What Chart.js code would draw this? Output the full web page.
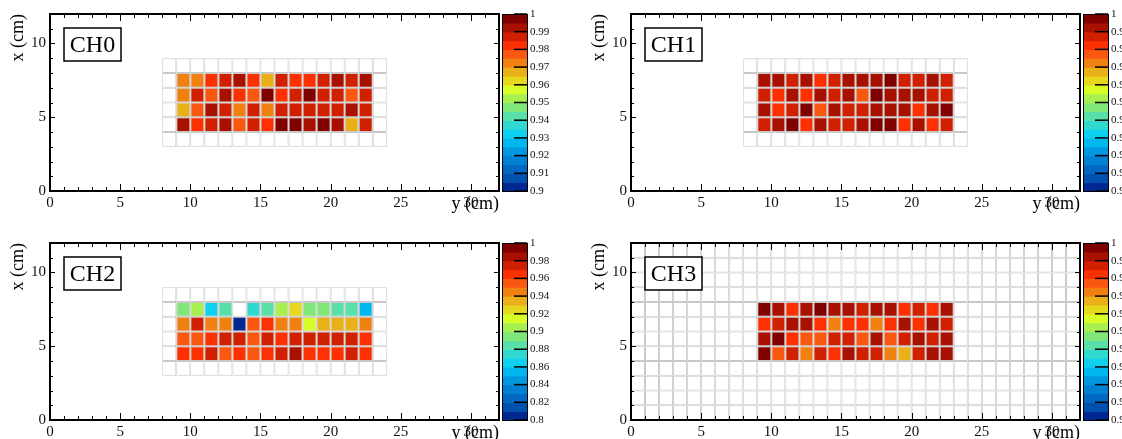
<!DOCTYPE html>
<html lang="en">
<head>
<meta charset="UTF-8">
<title>CH0 - CH3 maps</title>
<script src="https://cdn.jsdelivr.net/npm/chart.js"></script>
<style>
html, body {
margin: 0;
padding: 0;
width: 1122px;
height: 439px;
overflow: hidden;
background: #fff;
}
.panel {
position: absolute;
width: 561px;
height: 219px;
}
</style>
</head>
<body>

<div class="panel" style="left:0;top:0"><canvas id="ch0" width="561" height="219"></canvas></div>
<div class="panel" style="left:581px;top:0"><canvas id="ch1" width="561" height="219"></canvas></div>
<div class="panel" style="left:0;top:229px"><canvas id="ch2" width="561" height="219"></canvas></div>
<div class="panel" style="left:581px;top:229px"><canvas id="ch3" width="561" height="219"></canvas></div>

<script>
// bin columns (lower edge in y, cm) and rows (lower edge in x, cm), top row first
const colLow = [9, 10, 11, 12, 13, 14, 15, 16, 17, 18, 19, 20, 21, 22];
const rowLow = [7, 6, 5, 4];

// outlined (empty) bin area: [from, to] in y and x
const gridY = [8, 24];
const gridX = [3, 9];
const gridYFull = [0, 32];
const gridXFull = [0, 12];

const ch0 = [
[0.973, 0.973, 0.983, 0.988, 0.993, 0.983, 0.968, 0.988, 0.983, 0.983, 0.988, 0.993, 0.988, 0.993],
[0.973, 0.988, 0.978, 0.993, 0.983, 0.978, 0.998, 0.983, 0.988, 0.998, 0.988, 0.988, 0.978, 0.988],
[0.968, 0.978, 0.993, 0.988, 0.973, 0.988, 0.973, 0.988, 0.988, 0.988, 0.988, 0.988, 0.993, 0.988],
[0.993, 0.983, 0.988, 0.993, 0.978, 0.988, 0.983, 0.998, 0.998, 0.993, 0.998, 0.993, 0.968, 0.988]
];
const ch1 = [
[0.993, 0.993, 0.988, 0.993, 0.983, 0.988, 0.993, 0.993, 0.993, 0.998, 0.988, 0.988, 0.993, 0.988],
[0.988, 0.983, 0.993, 0.983, 0.993, 0.988, 0.993, 0.978, 0.998, 0.993, 0.993, 0.993, 0.988, 0.988],
[0.993, 0.983, 0.988, 0.998, 0.978, 0.993, 0.988, 0.988, 0.993, 0.993, 0.993, 0.983, 0.993, 0.998],
[0.988, 0.993, 0.998, 0.983, 0.993, 0.988, 0.988, 0.993, 0.998, 0.998, 0.983, 0.993, 0.983, 0.988]
];
const ch2 = [
[0.895, 0.905, 0.865, 0.885, null, 0.875, 0.885, 0.905, 0.925, 0.895, 0.895, 0.885, 0.885, 0.855],
[0.945, 0.975, 0.945, 0.945, 0.805, 0.955, 0.965, 0.945, 0.945, 0.915, 0.935, 0.935, 0.935, 0.945],
[0.955, 0.955, 0.965, 0.975, 0.975, 0.955, 0.975, 0.965, 0.975, 0.975, 0.975, 0.975, 0.975, 0.965],
[0.965, 0.965, 0.975, 0.955, 0.965, 0.955, 0.965, 0.975, 0.985, 0.965, 0.965, 0.965, 0.975, 0.965]
];
const ch3 = [
[0.998, 0.993, 0.983, 0.993, 0.998, 0.993, 0.993, 0.988, 0.993, 0.993, 0.983, 0.988, 0.983, 0.993],
[0.983, 0.988, 0.993, 0.993, 0.983, 0.973, 0.983, 0.983, 0.973, 0.983, 0.993, 0.983, 0.993, 0.988],
[0.993, 0.998, 0.983, 0.978, 0.978, 0.988, 0.988, 0.978, 0.993, 0.978, 0.988, 0.993, 0.988, 0.993],
[0.998, 0.978, 0.988, 0.973, 0.988, 0.983, 0.993, 0.988, 0.988, 0.973, 0.968, 0.988, 0.993, 0.993]
];

// z ranges and colour bar label steps
const zRangeFine = [0.9, 1];
const zRangeWide = [0.8, 1];
const zStepFine = 0.01;
const zStepWide = 0.02;

// 20 palette levels, bottom (low) to top (high)
const palette = [
'#002890', '#0050b0', '#0068c0', '#0080d0', '#0098e0', '#00b8f0', '#10d0f0', '#30d8d0',
'#58e0a8', '#80e878', '#a8f050', '#d8fe28', '#e6d81e', '#eab018', '#f08010', '#fa5810',
'#fc3000', '#d02000', '#a81000', '#800000'
];

const xTickStep = 5;
const yTickStep = 5;

const serif = '"Liberation Serif", "Times New Roman", serif';
Chart.defaults.font.family = serif;

function colorFor(v, zr) {
let i = Math.floor((v - zr[0]) / (zr[1] - zr[0]) * palette.length + 1e-9);
if (i < 0) i = 0;
if (i > palette.length - 1) i = palette.length - 1;
return palette[i];
}

function cellData(rows) {
const out = [];
rows.forEach((row, i) => {
row.forEach((v, j) => {
if (v === null) return;
out.push({ x: colLow[j] + 0.5, y: [rowLow[i], rowLow[i] + 1], v: v });
});
});
return out;
}

function gridData(spanY, spanX) {
const out = [];
for (let a = spanY[0]; a < spanY[1]; a++) {
for (let b = spanX[0]; b < spanX[1]; b++) {
out.push({ x: a + 0.5, y: [b, b + 1] });
}
}
return out;
}

// fixed axis sizes, no extra label overhang padding
function fixSize(prop, size) {
return s => {
s[prop] = size;
s.paddingTop = 0;
s.paddingBottom = 0;
s.paddingLeft = 0;
s.paddingRight = 0;
};
}

const rootFrame = {
id: 'rootFrame',
afterDatasetsDraw(chart, args, opts) {
const { ctx, chartArea: a, scales } = chart;
const x = scales.x, y = scales.y, z = scales.z;
ctx.save();

// colour bar
const bx = a.right + 3, bw = 25;
const n = palette.length;
for (let i = 0; i < n; i++) {
const lo = z.min + (z.max - z.min) * i / n;
const hi = z.min + (z.max - z.min) * (i + 1) / n;
const p1 = z.getPixelForValue(lo), p2 = z.getPixelForValue(hi);
ctx.fillStyle = palette[i];
ctx.fillRect(bx, p2, bw, p1 - p2 + 0.6);
}
ctx.strokeStyle = '#000';
ctx.lineWidth = 1;
ctx.strokeRect(bx + 0.5, a.top + 0.5, bw, a.bottom - a.top);
ctx.lineWidth = 1.5;
z.ticks.forEach(t => {
const py = z.getPixelForValue(t.value);
ctx.beginPath();
ctx.moveTo(bx + bw - 13, py);
ctx.lineTo(bx + bw, py);
ctx.stroke();
});

// inward ticks on all four sides
ctx.lineWidth = 1;
ctx.beginPath();
for (let v = x.min; v <= x.max; v++) {
const px = Math.round(x.getPixelForValue(v)) + 0.5;
const len = v % xTickStep ? 4 : 7;
ctx.moveTo(px, a.bottom); ctx.lineTo(px, a.bottom - len);
ctx.moveTo(px, a.top); ctx.lineTo(px, a.top + len);
}
for (let v = y.min; v <= y.max; v++) {
const py = Math.round(y.getPixelForValue(v)) + 0.5;
const len = v % yTickStep ? 3 : 5;
ctx.moveTo(a.left, py); ctx.lineTo(a.left + len, py);
ctx.moveTo(a.right, py); ctx.lineTo(a.right - len, py);
}
ctx.stroke();

// frame
ctx.lineWidth = 2;
ctx.strokeRect(a.left, a.top, a.right - a.left, a.bottom - a.top);

// channel label box
const bxL = a.left + 14, byT = a.top + 14, w = 57, h = 33;
ctx.fillStyle = '#fff';
ctx.fillRect(bxL, byT, w, h);
ctx.lineWidth = 1.5;
ctx.strokeRect(bxL, byT, w, h);
ctx.fillStyle = '#000';
ctx.font = '24px ' + serif;
ctx.textAlign = 'center';
ctx.textBaseline = 'middle';
ctx.fillText(opts.label, bxL + w / 2, byT + h / 2 + 1);
ctx.restore();
}
};

function makePanel(id, label, rows, zr, zStep, spanY, spanX) {
const cells = cellData(rows);
new Chart(document.getElementById(id), {
type: 'bar',
data: {
datasets: [{
data: cells,
backgroundColor: cells.map(c => colorFor(c.v, zr)),
borderColor: '#c8c8c8',
borderWidth: 1,
borderSkipped: false,
inflateAmount: 0,
grouped: false,
categoryPercentage: 1,
barPercentage: 1
}, {
data: gridData(spanY, spanX),
backgroundColor: '#ffffff',
borderColor: '#c8c8c8',
borderWidth: 1,
borderSkipped: false,
inflateAmount: 0,
grouped: false,
categoryPercentage: 1,
barPercentage: 1
}]
},
options: {
responsive: false,
animation: false,
events: [],
layout: { padding: { top: 14, left: 0, right: 0, bottom: 0 } },
plugins: {
legend: { display: false },
tooltip: { enabled: false },
rootFrame: { label: label }
},
scales: {
x: {
type: 'linear',
position: 'bottom',
min: 0,
max: 32,
offset: false,
grid: { display: false, drawTicks: false, offset: false },
border: { display: false },
ticks: {
stepSize: xTickStep,
includeBounds: false,
autoSkip: false,
maxRotation: 0,
padding: 3,
color: '#111',
font: { size: 15 }
},
title: {
display: true,
text: 'y (cm)',
align: 'end',
color: '#000',
padding: { top: 0, bottom: 4 },
font: { size: 18 }
},
afterFit: fixSize('height', 28)
},
y: {
type: 'linear',
position: 'left',
min: 0,
max: 12,
grid: { display: false, drawTicks: false },
border: { display: false },
ticks: {
stepSize: yTickStep,
includeBounds: false,
autoSkip: false,
padding: 4,
color: '#111',
font: { size: 15 }
},
title: {
display: true,
text: 'x (cm)',
align: 'end',
color: '#000',
padding: { top: 7, bottom: 0 },
font: { size: 18 }
},
afterFit: fixSize('width', 50)
},
z: {
type: 'linear',
position: 'right',
min: zr[0],
max: zr[1],
grid: { display: false, drawTicks: false },
border: { display: false },
ticks: {
stepSize: zStep,
autoSkip: false,
padding: 31,
color: '#111',
font: { size: 11 },
callback: v => String(+v.toFixed(2))
},
afterFit: fixSize('width', 62)
}
}
},
plugins: [rootFrame]
});
}

makePanel('ch0', 'CH0', ch0, zRangeFine, zStepFine, gridY, gridX);
makePanel('ch1', 'CH1', ch1, zRangeFine, zStepFine, gridY, gridX);
makePanel('ch2', 'CH2', ch2, zRangeWide, zStepWide, gridY, gridX);
makePanel('ch3', 'CH3', ch3, zRangeFine, zStepFine, gridYFull, gridXFull);
</script>

</body>
</html>
